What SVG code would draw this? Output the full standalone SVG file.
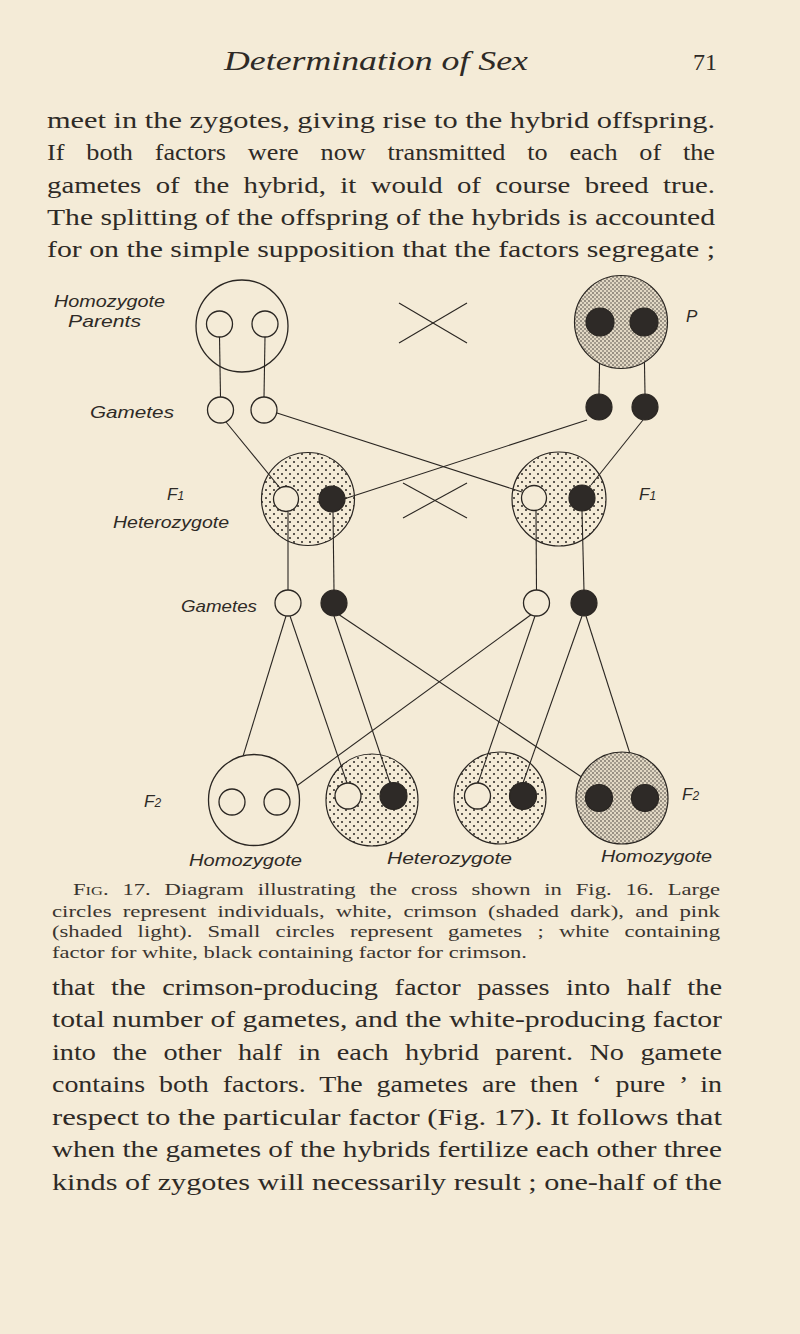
<svg xmlns="http://www.w3.org/2000/svg" width="800" height="1334" viewBox="0 0 800 1334">
<defs>
<pattern id="light" width="8" height="8" patternUnits="userSpaceOnUse">
<circle cx="2" cy="2" r="1" fill="#2a2622"/><circle cx="6" cy="6" r="1" fill="#2a2622"/>
</pattern>
<pattern id="dense" width="4" height="4" patternUnits="userSpaceOnUse">
<rect width="4" height="4" fill="#e2d8c4"/><circle cx="1" cy="1" r="0.8" fill="#3a3530"/><circle cx="3" cy="3" r="0.7" fill="#3a3530"/>
</pattern>
<style>
.bg{fill:#f4ebd7}
.ink{stroke:#2a2622;stroke-width:1.3;fill:none}
.wc{stroke:#2a2622;stroke-width:1.3;fill:#f4ebd7}
.dk{stroke:#2a2622;stroke-width:1.2;fill:#2e2a27}
.lt{stroke:#2a2622;stroke-width:1.2;fill:url(#light)}
.cr{stroke:#2a2622;stroke-width:1.2;fill:url(#dense)}
.hd{font-family:"Liberation Serif",serif;font-style:italic;font-size:28px;fill:#2e2a26}
.body{font-family:"Liberation Serif",serif;font-size:24px;fill:#2e2a26}
.cap{font-family:"Liberation Serif",serif;font-size:16.5px;fill:#3a3530}
.lab{font-family:"Liberation Sans",sans-serif;font-style:italic;font-size:17px;fill:#2e2a26}
.ln{stroke:#2a2622;stroke-width:1.1;fill:none}
</style>
</defs>
<rect class="bg" width="800" height="1334"/>
<text x="224" y="70" class="hd" textLength="304" lengthAdjust="spacingAndGlyphs">Determination of Sex</text>
<text x="693" y="70" class="body" font-size="21">71</text>
<g id="toptext" class="body">
<text x="47" y="128" textLength="668" lengthAdjust="spacingAndGlyphs">meet in the zygotes, giving rise to the hybrid offspring.</text>
<text x="47" y="160" textLength="668" lengthAdjust="spacingAndGlyphs" word-spacing="14">If both factors were now transmitted to each of the</text>
<text x="47" y="193" textLength="668" lengthAdjust="spacingAndGlyphs" word-spacing="6">gametes of the hybrid, it would of course breed true.</text>
<text x="47" y="225" textLength="668" lengthAdjust="spacingAndGlyphs">The splitting of the offspring of the hybrids is accounted</text>
<text x="47" y="257" textLength="668" lengthAdjust="spacingAndGlyphs">for on the simple supposition that the factors segregate ;</text>
</g>
<g id="connectors">
<line class="ln" x1="219.5" y1="337" x2="220.5" y2="397"/>
<line class="ln" x1="265" y1="337" x2="264" y2="397"/>
<line class="ln" x1="600" y1="336" x2="599" y2="394"/>
<line class="ln" x1="644" y1="336" x2="645" y2="394"/>
<line class="ln" x1="399" y1="343" x2="467" y2="303"/>
<line class="ln" x1="399" y1="303" x2="467" y2="343"/>
<line class="ln" x1="226" y1="422" x2="280" y2="488"/>
<line class="ln" x1="277" y1="413" x2="522" y2="492"/>
<line class="ln" x1="587" y1="420" x2="344" y2="499"/>
<line class="ln" x1="643" y1="420" x2="591" y2="485"/>
<line class="ln" x1="403" y1="518" x2="467" y2="483"/>
<line class="ln" x1="403" y1="483" x2="467" y2="518"/>
<line class="ln" x1="288" y1="512" x2="288" y2="591"/>
<line class="ln" x1="333" y1="512" x2="334" y2="591"/>
<line class="ln" x1="536" y1="511" x2="536.5" y2="591"/>
<line class="ln" x1="582" y1="511" x2="584" y2="591"/>
<line class="ln" x1="286" y1="616" x2="233" y2="789"/>
<line class="ln" x1="290" y1="616" x2="347" y2="783"/>
<line class="ln" x1="334" y1="616" x2="390" y2="783"/>
<line class="ln" x1="338" y1="614" x2="595" y2="786"/>
<line class="ln" x1="532" y1="614" x2="287" y2="793"/>
<line class="ln" x1="535" y1="616" x2="478" y2="783"/>
<line class="ln" x1="582" y1="616" x2="523" y2="783"/>
<line class="ln" x1="586" y1="616" x2="640" y2="785"/>
</g>
<g id="parent-white"><circle class="ink" cx="242" cy="326" r="46"/><circle class="wc" cx="219.5" cy="324" r="13"/><circle class="wc" cx="265" cy="324" r="13"/></g>
<g id="parent-crimson"><circle class="cr" cx="621" cy="322" r="46.5"/><circle class="dk" cx="600" cy="322" r="14"/><circle class="dk" cx="644" cy="322" r="14"/></g>
<g id="gametes1"><circle class="wc" cx="220.5" cy="410" r="13"/><circle class="wc" cx="264" cy="410" r="13"/><circle class="dk" cx="599" cy="407" r="13"/><circle class="dk" cx="645" cy="407" r="13"/></g>
<g id="f1-left"><circle class="lt" cx="308" cy="499" r="46.5"/><circle class="wc" cx="286" cy="499" r="12.5"/><circle class="dk" cx="332" cy="499" r="13"/></g>
<g id="f1-right"><circle class="lt" cx="559" cy="499" r="47"/><circle class="wc" cx="534" cy="498" r="12.5"/><circle class="dk" cx="582" cy="498" r="13"/></g>
<g id="gametes2"><circle class="wc" cx="288" cy="603" r="13"/><circle class="dk" cx="334" cy="603" r="13"/><circle class="wc" cx="536.5" cy="603" r="13"/><circle class="dk" cx="584" cy="603" r="13"/></g>
<g id="f2-1"><circle class="wc" cx="254" cy="800" r="45.5"/><circle class="wc" cx="232" cy="802" r="13"/><circle class="wc" cx="277" cy="802" r="13"/></g>
<g id="f2-2"><circle class="lt" cx="372" cy="800" r="46"/><circle class="wc" cx="348" cy="796" r="13"/><circle class="dk" cx="393.5" cy="796" r="13.5"/></g>
<g id="f2-3"><circle class="lt" cx="500" cy="798" r="46"/><circle class="wc" cx="477.5" cy="796" r="13"/><circle class="dk" cx="523" cy="796" r="13.5"/></g>
<g id="f2-4"><circle class="cr" cx="622" cy="798" r="46"/><circle class="dk" cx="599" cy="798" r="13.5"/><circle class="dk" cx="645" cy="798" r="13.5"/></g>
<g id="labels" class="lab">
<text x="54" y="307" textLength="111" lengthAdjust="spacingAndGlyphs">Homozygote</text>
<text x="68" y="327" textLength="73" lengthAdjust="spacingAndGlyphs">Parents</text>
<text x="686" y="322">P</text>
<text x="90" y="418" textLength="84" lengthAdjust="spacingAndGlyphs">Gametes</text>
<text x="167" y="500">F<tspan font-size="12">1</tspan></text>
<text x="113" y="528" textLength="116" lengthAdjust="spacingAndGlyphs">Heterozygote</text>
<text x="639" y="500">F<tspan font-size="12">1</tspan></text>
<text x="181" y="612" textLength="76" lengthAdjust="spacingAndGlyphs">Gametes</text>
<text x="144" y="807">F<tspan font-size="12">2</tspan></text>
<text x="682" y="800">F<tspan font-size="12">2</tspan></text>
<text x="189" y="866" textLength="113" lengthAdjust="spacingAndGlyphs">Homozygote</text>
<text x="387" y="864" textLength="125" lengthAdjust="spacingAndGlyphs">Heterozygote</text>
<text x="601" y="862" textLength="111" lengthAdjust="spacingAndGlyphs">Homozygote</text>
</g>
<g id="caption" class="cap">
<text x="73" y="895" textLength="647" lengthAdjust="spacingAndGlyphs" word-spacing="6"><tspan font-variant="small-caps">Fig.</tspan> 17. Diagram illustrating the cross shown in Fig. 16. Large</text>
<text x="52" y="917" textLength="668" lengthAdjust="spacingAndGlyphs" word-spacing="4">circles represent individuals, white, crimson (shaded dark), and pink</text>
<text x="52" y="937" textLength="668" lengthAdjust="spacingAndGlyphs" word-spacing="7">(shaded light). Small circles represent gametes ; white containing</text>
<text x="52" y="958" textLength="475" lengthAdjust="spacingAndGlyphs">factor for white, black containing factor for crimson.</text>
</g>
<g id="bottomtext" class="body">
<text x="52" y="995" textLength="670" lengthAdjust="spacingAndGlyphs" word-spacing="8">that the crimson-producing factor passes into half the</text>
<text x="52" y="1027" textLength="670" lengthAdjust="spacingAndGlyphs">total number of gametes, and the white-producing factor</text>
<text x="52" y="1060" textLength="670" lengthAdjust="spacingAndGlyphs" word-spacing="8">into the other half in each hybrid parent. No gamete</text>
<text x="52" y="1092" textLength="670" lengthAdjust="spacingAndGlyphs" word-spacing="6">contains both factors. The gametes are then ‘ pure ’ in</text>
<text x="52" y="1125" textLength="670" lengthAdjust="spacingAndGlyphs">respect to the particular factor (Fig. 17). It follows that</text>
<text x="52" y="1157" textLength="670" lengthAdjust="spacingAndGlyphs">when the gametes of the hybrids fertilize each other three</text>
<text x="52" y="1190" textLength="670" lengthAdjust="spacingAndGlyphs">kinds of zygotes will necessarily result ; one-half of the</text>
</g>
</svg>
